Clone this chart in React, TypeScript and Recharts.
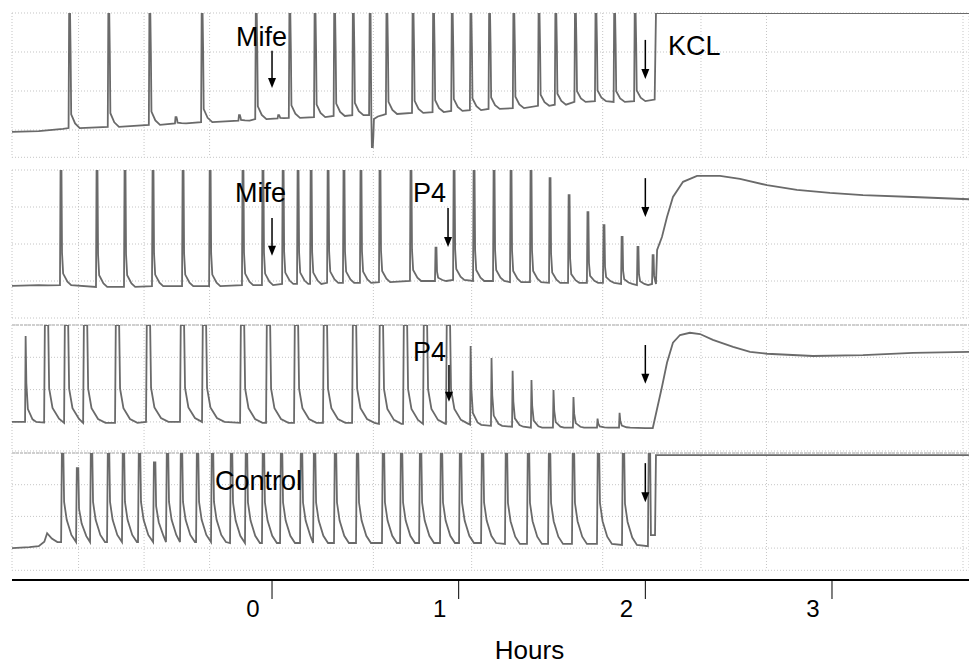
import { CartesianGrid, Line, LineChart, ReferenceDot, ReferenceLine, XAxis, YAxis } from 'recharts'

// time axis in hours (0 = start of treatment)
const X_MIN = -1.393
const X_MAX = 3.734
const hourTicks = [0, 1, 2, 3]
const gridTimes = Array.from({ length: 30 }, (_, i) => -1.3875 + i * 0.1755)

// each spike: [time (h), peak, baseline] in panel units
const mifeKclLead = [[-1.393, -0.05], [-1.25, -0.03], [-1.12, 0.03]]
const mifeKclSpikes = [
  [-1.09, 3, 0.05], [-0.88, 3, 0.08], [-0.66, 3, 0.13], [-0.52, 0.33, 0.17], [-0.38, 3, 0.2],
  [-0.18, 0.38, 0.24], [-0.09, 3, 0.28], [0.03, 0.38, 0.3], [0.09, 3, 0.31], [0.225, 3, 0.33],
  [0.33, 3, 0.36], [0.43, 3, 0.38], [0.52, 3, 0.38], [0.532, -0.44, 0.38], [0.61, 3, 0.41],
  [0.75, 3, 0.44], [0.86, 3, 0.46], [0.96, 3, 0.49], [1.06, 3, 0.51], [1.16, 3, 0.54],
  [1.29, 3, 0.56], [1.425, 3, 0.62], [1.515, 3, 0.65], [1.62, 3, 0.72], [1.73, 3, 0.74],
  [1.83, 3, 0.72], [1.94, 3, 0.74],
]
const mifeKclTail = [[2.05, 0.78], [2.057, 3.0], [3.734, 3.0]]

const mifeP4Lead = [[-1.393, -0.13], [-1.25, -0.11], [-1.2, -0.12]]
const mifeP4Spikes = [
  [-1.136, 3, -0.11], [-0.943, 3, -0.16], [-0.793, 3, -0.16], [-0.643, 3, -0.14], [-0.482, 3, -0.14],
  [-0.337, 3, -0.14], [-0.161, 3, -0.11], [-0.054, 3, -0.11], [0.054, 3, -0.08], [0.134, 3, -0.08],
  [0.204, 3, -0.08], [0.295, 3, -0.05], [0.38, 3, -0.05], [0.471, 3, -0.05], [0.573, 3, -0.03],
  [0.739, 3, 0], [0.873, 0.9, 0], [0.97, 3, 0.03], [1.077, 3, 0], [1.184, 3, 0],
  [1.275, 3, -0.03], [1.382, 3, -0.03], [1.484, 2.78, -0.05], [1.586, 2.32, -0.05], [1.687, 1.86, -0.05],
  [1.773, 1.51, -0.05], [1.87, 1.19, -0.08], [1.955, 0.92, -0.11], [2.036, 0.7, -0.08],
]
const mifeP4Tail = [
  [2.057, -0.08], [2.063, 0.84], [2.089, 1.19], [2.116, 1.73], [2.148, 2.27], [2.202, 2.68],
  [2.277, 2.84], [2.4, 2.84], [2.507, 2.76], [2.652, 2.59], [2.812, 2.46], [2.989, 2.38],
  [3.166, 2.32], [3.434, 2.27], [3.734, 2.21],
]

const p4Lead = [[-1.393, 0], [-1.34, 0]]
const p4Spikes = [
  [-1.221, 3, -0.02], [-1.114, 3, -0.03], [-1.012, 3, -0.03], [-0.841, 3, -0.03],
  [-0.675, 3, 0], [-0.493, 3, 0], [-0.375, 3, 0], [-0.171, 3, -0.03], [-0.032, 3, -0.03],
  [0.118, 3, -0.03], [0.273, 3, -0.03], [0.429, 3, -0.03], [0.573, 3, -0.06], [0.702, 3, -0.06],
  [0.809, 3, -0.06], [0.932, 3, -0.06],
]
const p4FirstSpike = [[-1.323, 2.66, 0]]
const p4LateSpikes = [
  [1.061, 2.35, -0.09], [1.173, 1.98, -0.12], [1.286, 1.58, -0.15], [1.387, 1.3, -0.18],
  [1.505, 0.99, -0.18], [1.612, 0.77, -0.18], [1.741, 0.1, -0.18], [1.859, 0.28, -0.18],
]
const p4Tail = [
  [2.0, -0.19], [2.04, -0.19], [2.089, 1.08], [2.116, 1.83], [2.148, 2.45], [2.186, 2.69],
  [2.239, 2.76], [2.293, 2.72], [2.362, 2.54], [2.47, 2.32], [2.561, 2.17], [2.652, 2.11],
  [2.898, 2.04], [3.166, 2.07], [3.434, 2.14], [3.734, 2.17],
]

const controlLead = [[-1.393, 0], [-1.3, 0.03], [-1.25, 0.06], [-1.22, 0.2], [-1.205, 0.47], [-1.18, 0.3], [-1.15, 0.19]]
const controlSpikes = [
  [-1.13, 3, 0.19], [-1.05, 2.52, 0.19], [-0.975, 3, 0.19], [-0.884, 3, 0.19], [-0.804, 3, 0.19],
  [-0.718, 3, 0.19], [-0.637, 2.7, 0.19], [-0.568, 3, 0.19], [-0.493, 3, 0.19], [-0.407, 3, 0.19],
  [-0.327, 3, 0.19], [-0.225, 3, 0.16], [-0.145, 3, 0.16], [-0.054, 3, 0.16], [0.043, 3, 0.16],
  [0.15, 3, 0.16], [0.22, 3, 0.16], [0.332, 3, 0.16], [0.45, 3, 0.16], [0.589, 3, 0.16],
  [0.686, 3, 0.16], [0.788, 3, 0.16], [0.9, 3, 0.16], [1.002, 3, 0.16], [1.12, 3, 0.16],
  [1.248, 3, 0.13], [1.366, 3, 0.13], [1.479, 3, 0.13], [1.607, 3, 0.13], [1.741, 3, 0.13],
  [1.875, 3, 0.1], [2.014, 3, 0.06],
]
const controlTail = [[2.03, 0.41], [2.052, 0.41], [2.057, 2.93], [3.734, 2.93]]

// spike outline: [offset in hours, fraction of amplitude]
const sharpShape = [[0, 0], [0.003, 1], [0.008, 1], [0.011, 0.65], [0.014, 0.12], [0.035, 0.04], [0.06, 0]]
const narrowShape = [[0, 0], [0.003, 1], [0.008, 1], [0.011, 0.28], [0.017, 0.1], [0.04, 0.03], [0.06, 0]]
const plateauShape = [[0, 0], [0.004, 1], [0.022, 1], [0.027, 0.35], [0.045, 0.15], [0.08, 0.04], [0.12, 0]]
const lateShape = [[0, 0], [0.003, 1], [0.007, 0.45], [0.015, 0.15], [0.04, 0.03], [0.06, 0]]
const wideShape = [[0, 0], [0.004, 1], [0.012, 1], [0.016, 0.45], [0.03, 0.25], [0.055, 0.08], [0.08, 0]]

type Pt = { t: number; v: number }

function buildTrace(lead: number[][], groups: [number[][], number[][]][], tail: number[][]): Pt[] {
  const pts: Pt[] = lead.map(([t, v]) => ({ t, v }))
  const spikes = groups
    .flatMap(([list, shape]) => list.map((s) => ({ s, shape })))
    .sort((a, b) => a.s[0] - b.s[0])
  spikes.forEach(({ s, shape }, i) => {
    const [t, peak, base] = s
    const next = i + 1 < spikes.length ? spikes[i + 1].s[0] : tail[0][0]
    shape.forEach(([dt, f]) => {
      if (dt === 0 || t + dt < next - 0.002) pts.push({ t: t + dt, v: base + f * (peak - base) })
    })
  })
  tail.forEach(([t, v]) => pts.push({ t, v }))
  return pts
}

const panels = [
  {
    top: 13, unit: 39, domain: [-0.7, 3], yTicks: [-0.7, 0, 1, 2, 3], edge: false,
    data: buildTrace(mifeKclLead, [[mifeKclSpikes, sharpShape]], mifeKclTail),
    arrows: [{ t: 0, from: 2.03, to: 1.08 }, { t: 2.0, from: 2.31, to: 1.31 }],
    labels: [{ t: -0.193, v: 2.15, text: 'Mife' }, { t: 2.121, v: 1.92, text: 'KCL' }],
  },
  {
    top: 170, unit: 37, domain: [-1, 3], yTicks: [-1, 0, 1, 2, 3], edge: false,
    data: buildTrace(mifeP4Lead, [[mifeP4Spikes, narrowShape]], mifeP4Tail),
    arrows: [{ t: 0, from: 1.7, to: 0.68 }, { t: 0.943, from: 1.97, to: 0.92 }, { t: 2.0, from: 2.78, to: 1.73 }],
    labels: [{ t: -0.198, v: 2.14, text: 'Mife' }, { t: 0.755, v: 2.14, text: 'P4' }],
  },
  {
    top: 325, unit: 32.3, domain: [-0.9, 3], yTicks: [0, 1, 2, 3], edge: true,
    data: buildTrace(p4Lead, [[p4FirstSpike, lateShape], [p4Spikes, plateauShape], [p4LateSpikes, lateShape]], p4Tail),
    arrows: [{ t: 0.948, from: 1.76, to: 0.62 }, { t: 2.0, from: 2.38, to: 1.18 }],
    labels: [{ t: 0.755, v: 1.89, text: 'P4' }],
  },
  {
    top: 453, unit: 31.7, domain: [-0.7, 3], yTicks: [-0.7, 0, 1, 2, 3], edge: true,
    data: buildTrace(controlLead, [[controlSpikes, wideShape]], controlTail),
    arrows: [{ t: 2.0, from: 2.68, to: 1.45 }],
    labels: [{ t: -0.305, v: 1.83, text: 'Control' }],
  },
]

const PAD = 3
const FONT = "'Liberation Sans', Arial, sans-serif"

const Arrow = (p: any) => {
  const { x1, y1, x2, y2 } = p
  return (
    <g>
      <line x1={x1} y1={y1} x2={x2} y2={y2 - 8} stroke="#000" strokeWidth={1.5} />
      <polygon points={`${x2 - 4},${y2 - 10} ${x2 + 4},${y2 - 10} ${x2},${y2}`} fill="#000" />
    </g>
  )
}

const HourTick = (p: any) => {
  const { x, y, payload } = p
  return (
    <g>
      <line x1={x} y1={y} x2={x} y2={y + 19} stroke="#000" strokeWidth={1} />
      <text x={x - 19} y={y + 37} textAnchor="middle" fontSize={24} fontFamily={FONT} fill="#000">
        {payload.value}
      </text>
    </g>
  )
}

export default function App() {
  return (
    <div style={{ position: 'absolute', left: 0, top: 0, width: 969, height: 668, background: '#fff' }}>
      {panels.map((panel, idx) => {
        const h = (panel.domain[1] - panel.domain[0]) * panel.unit
        return (
          <div key={idx} style={{ position: 'absolute', left: 0, top: panel.top - PAD }}>
            <LineChart width={969} height={h + 2 * PAD} data={panel.data} margin={{ top: PAD, right: 0, bottom: PAD, left: 12 }}>
              <CartesianGrid stroke="#c4c4c4" strokeDasharray="1 2" />
              <XAxis dataKey="t" type="number" domain={[X_MIN, X_MAX]} ticks={gridTimes} hide allowDataOverflow />
              <YAxis type="number" domain={panel.domain} ticks={panel.yTicks} hide allowDataOverflow />
              {panel.edge ? <ReferenceLine y={3} stroke="#cfcfcf" strokeWidth={2} strokeDasharray="3 1" /> : null}
              <Line type="linear" dataKey="v" stroke="#6a6a6a" strokeWidth={1.8} dot={false} isAnimationActive={false} />
              {panel.arrows.map((a, i) => (
                <ReferenceLine key={`a${i}`} segment={[{ x: a.t, y: a.from }, { x: a.t, y: a.to }]} shape={Arrow} ifOverflow="visible" />
              ))}
              {panel.labels.map((l, i) => (
                <ReferenceDot
                  key={`l${i}`}
                  x={l.t}
                  y={l.v}
                  ifOverflow="visible"
                  shape={(p: any) => (
                    <text x={p.cx} y={p.cy} fontSize={27} fontFamily={FONT} fill="#000">
                      {l.text}
                    </text>
                  )}
                />
              ))}
            </LineChart>
          </div>
        )
      })}
      <div style={{ position: 'absolute', left: 0, top: 559 }}>
        <LineChart width={969} height={109} data={[{ t: X_MIN }, { t: X_MAX }]} margin={{ top: 20, right: 0, bottom: 0, left: 12 }}>
          <XAxis
            dataKey="t"
            type="number"
            domain={[X_MIN, X_MAX]}
            ticks={hourTicks}
            height={88}
            axisLine={{ stroke: '#000', strokeWidth: 2 }}
            tickLine={false}
            tickSize={0}
            tickMargin={0}
            tick={HourTick}
            label={{
              content: (p: any) => (
                <text x={p.viewBox.x + p.viewBox.width / 2 + 39} y={p.viewBox.y + 79} textAnchor="middle" fontSize={26} fontFamily={FONT} fill="#000">
                  Hours
                </text>
              ),
            }}
          />
          <YAxis hide domain={[0, 1]} />
        </LineChart>
      </div>
    </div>
  )
}
